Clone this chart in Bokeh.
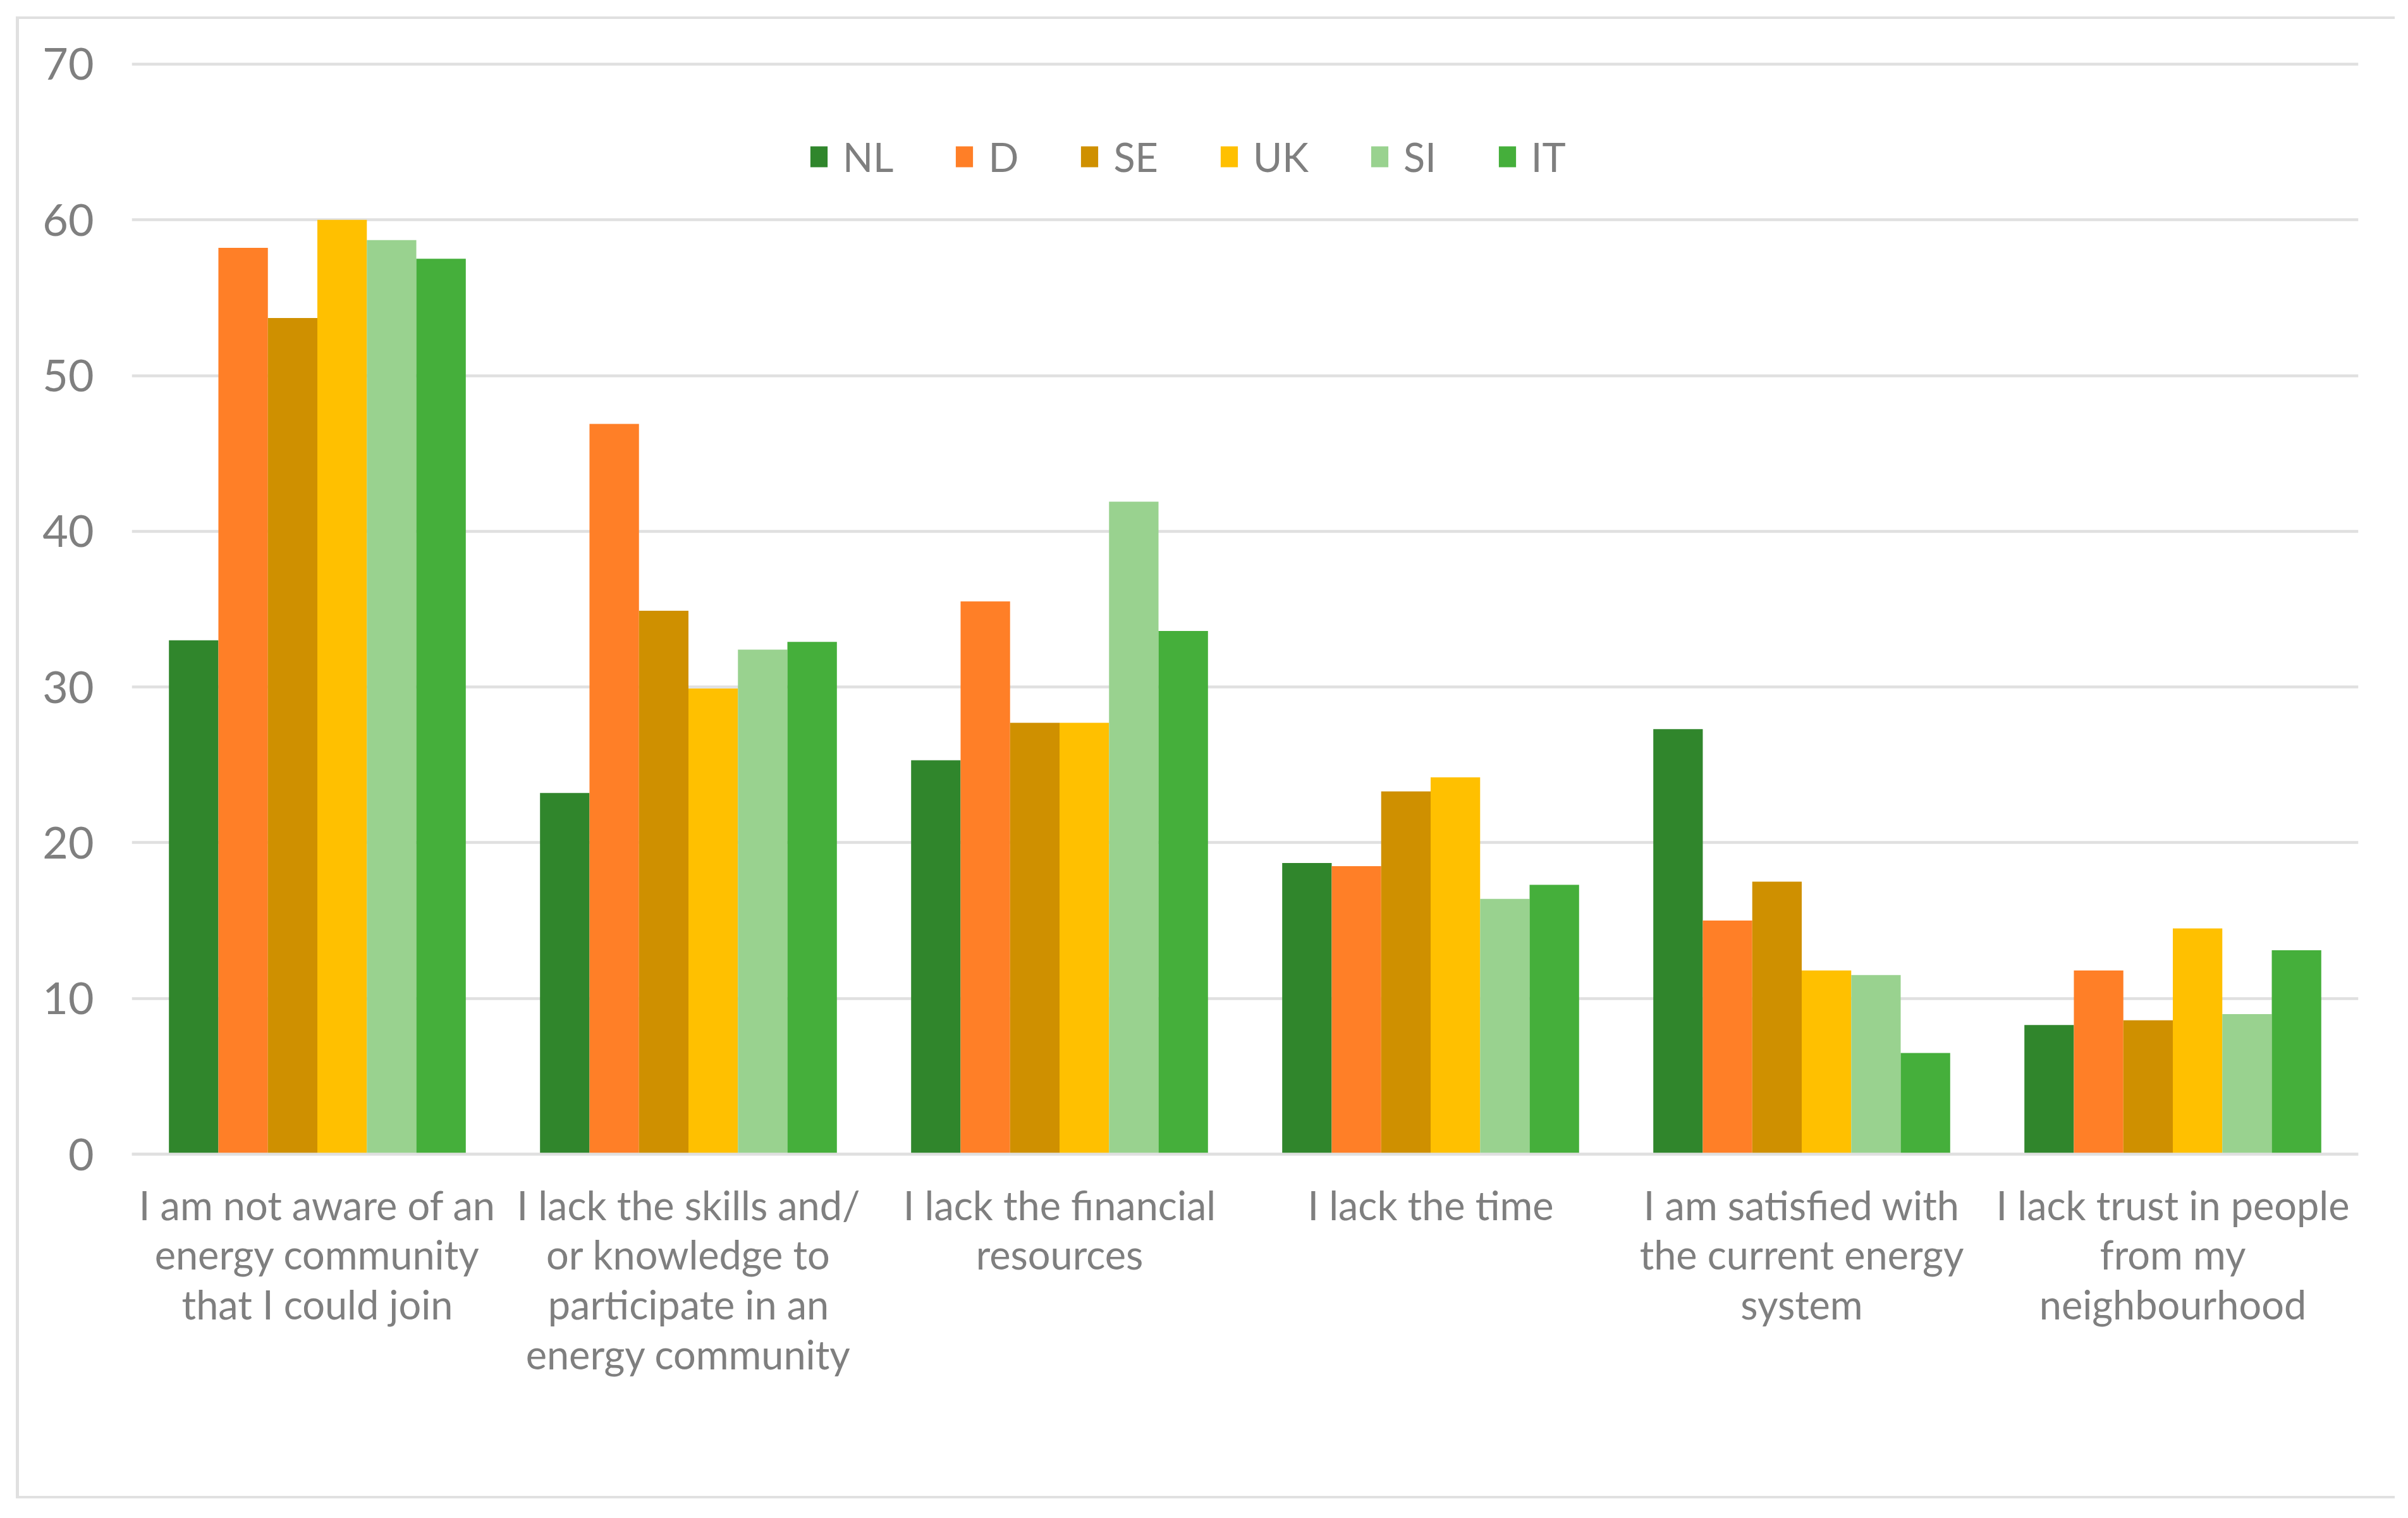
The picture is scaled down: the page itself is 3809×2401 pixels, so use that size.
from bokeh.plotting import figure
from bokeh.models import FactorRange, Range1d, ColumnDataSource, FixedTicker, Span
from bokeh.transform import dodge
from bokeh.embed import file_html
from bokeh.resources import INLINE

# category names, wrapped as in the reference
categories = [
    "I am not aware of an\nenergy community\nthat I could join",
    "I lack the skills and/\nor knowledge to\nparticipate in an\nenergy community",
    "I lack the financial\nresources",
    "I lack the time",
    "I am satisfied with\nthe current energy\nsystem",
    "I lack trust in people\nfrom my\nneighbourhood",
]
countries = ["NL", "D", "SE", "UK", "SI", "IT"]
NL = [33.0, 23.2, 25.3, 18.7, 27.3, 8.3]
D = [58.2, 46.9, 35.5, 18.5, 15.0, 11.8]
SE = [53.7, 34.9, 27.7, 23.3, 17.5, 8.6]
UK = [60.0, 29.9, 27.7, 24.2, 11.8, 14.5]
SI = [58.7, 32.4, 41.9, 16.4, 11.5, 9.0]
IT = [57.5, 32.9, 33.6, 17.3, 6.5, 13.1]
colors = ["#30862c", "#ff7f27", "#cf9000", "#ffc000", "#99d28f", "#45af3b"]
y_ticks = [0, 10, 20, 30, 40, 50, 60, 70]

series = {"NL": NL, "D": D, "SE": SE, "UK": UK, "SI": SI, "IT": IT}
source = ColumnDataSource(data=dict(cat=categories, **series))

FONT = "Lato"
GRAY = "#7f7f7f"
LINE = "#e0e0e0"

# light chart-area border (left, top, bottom), painted behind a transparent canvas
border_css = {
    "background-image": ", ".join([f"linear-gradient({LINE}, {LINE})"] * 3),
    "background-position": "25px 26px, 25px 26px, 25px 2366px",
    "background-size": "3763px 4px, 5px 2344px, 3763px 4px",
    "background-repeat": "no-repeat",
}

p = figure(
    x_range=FactorRange(factors=categories, range_padding=0),
    y_range=Range1d(-0.2, 70.2),
    frame_width=3522, frame_height=1734,
    min_border_left=208, min_border_right=71,
    min_border_top=96, min_border_bottom=563,
    output_backend="svg", toolbar_location=None,
    background_fill_color="white", border_fill_color=None,
    styles=border_css,
)
p.outline_line_color = None

bw = 1.0 / 7.5
for i, c in enumerate(countries):
    off = (i - 2.5) * bw
    p.vbar(x=dodge("cat", off, range=p.x_range), top=c, bottom=0, width=bw,
           source=source, fill_color=colors[i], line_color=None,
           legend_label=c)

# category axis line at zero, drawn over the bars
p.add_layout(Span(location=0, dimension="width", line_color=LINE, line_width=4.5))

# y axis
p.yaxis.ticker = FixedTicker(ticks=y_ticks)
p.yaxis.axis_line_color = None
p.yaxis.major_tick_line_color = None
p.yaxis.minor_tick_line_color = None
p.yaxis.major_tick_out = 0
p.yaxis.major_tick_in = 0
p.yaxis.major_label_text_font = FONT
p.yaxis.major_label_text_font_size = "70px"
p.yaxis.major_label_text_color = GRAY
p.yaxis.major_label_standoff = 60

# x axis with multi-line category labels
p.xaxis.axis_line_color = None
p.xaxis.major_tick_line_color = None
p.xaxis.minor_tick_line_color = None
p.xaxis.major_tick_out = 0
p.xaxis.major_tick_in = 0
p.xaxis.major_label_text_font = FONT
p.xaxis.major_label_text_font_size = "63px"
p.xaxis.major_label_text_color = GRAY
p.xaxis.major_label_text_line_height = 1.05
p.xaxis.major_label_standoff = 37
p.xaxis.major_label_orientation = "horizontal"

p.xgrid.grid_line_color = None
p.ygrid.ticker = FixedTicker(ticks=y_ticks)
p.ygrid.grid_line_color = LINE
p.ygrid.grid_line_width = 4.5

# legend
lg = p.legend[0]
lg.orientation = "horizontal"
lg.location = (1070, 1545)
lg.padding = 0
lg.margin = 0
lg.border_line_color = None
lg.background_fill_alpha = 0
lg.glyph_width = 34
lg.glyph_height = 41
lg.label_standoff = 21
lg.spacing = 95
lg.label_text_font = FONT
lg.label_text_font_size = "63px"
lg.label_text_color = GRAY
lg.label_height = 41

open("out.html", "w").write(file_html(p, INLINE))
